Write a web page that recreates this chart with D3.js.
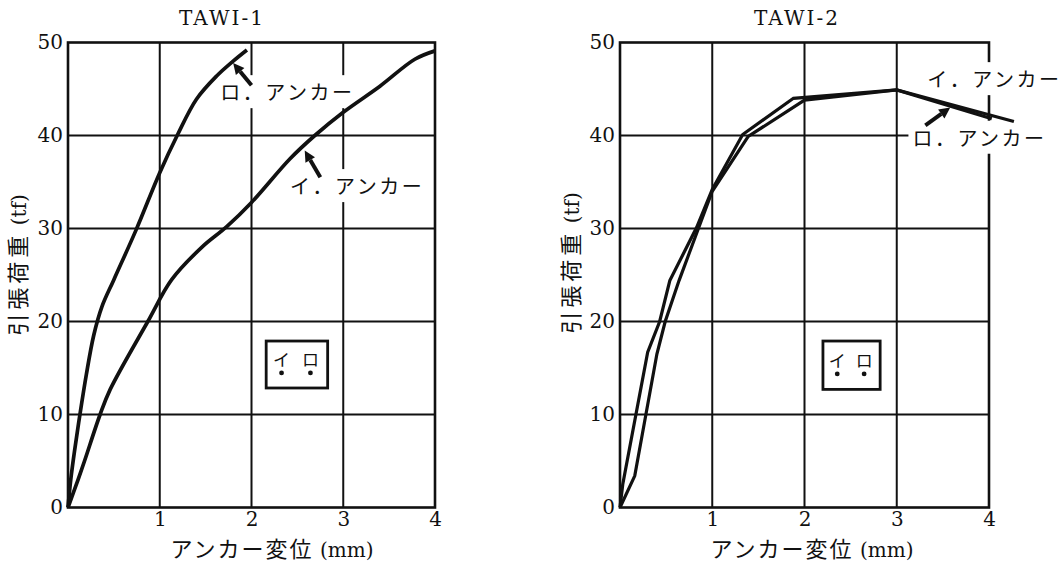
<!DOCTYPE html>
<html>
<head>
<meta charset="utf-8">
<script src="https://cdn.jsdelivr.net/npm/d3@7/dist/d3.min.js"></script>
<style>
  html, body { margin: 0; padding: 0; background: #fff; }
  svg { display: block; }
</style>
</head>
<body>
<svg id="chart" width="1064" height="562"></svg>
<script>
// Tick values (mm on x, tf on y)
const xTicks = [1, 2, 3, 4];
const yTicks = [0, 10, 20, 30, 40, 50];
const panelTitles = ["TAWI-1", "TAWI-2"];
const anchorNames = ["イ", "ロ"];

// TAWI-1: anchor displacement (mm) vs. tensile load (tf)
const tawi1RoDisp = [0, 0.03, 0.07, 0.13, 0.2, 0.28, 0.37, 0.5, 0.74, 1.0, 1.19, 1.4, 1.62, 1.8, 1.95];
const tawi1RoLoad = [0, 3, 6, 10, 14.3, 18.5, 21.6, 24.5, 29.8, 36, 40, 43.9, 46.4, 48, 49.2];
const tawi1IDisp  = [0, 0.11, 0.18, 0.35, 0.46, 0.87, 1.13, 1.46, 1.73, 2.0, 2.42, 2.69, 3.0, 3.4, 3.78, 4.0];
const tawi1ILoad  = [0, 3, 5, 10, 12.7, 20, 24.5, 28.0, 30.2, 32.8, 37.5, 40, 42.5, 45.3, 48.2, 49.1];

// TAWI-2: anchor displacement (mm) vs. tensile load (tf)
const tawi2RoDisp = [0, 0.03, 0.3, 0.43, 0.54, 0.83, 1.0, 1.33, 1.88, 3.0, 4.03];
const tawi2RoLoad = [0, 2.5, 16.7, 20, 24.4, 30.1, 34.2, 40.1, 44.0, 44.9, 41.8];
const tawi2IDisp  = [0, 0.16, 0.4, 0.49, 0.64, 0.85, 1.0, 1.39, 2.0, 3.0, 4.27];
const tawi2ILoad  = [0, 3.4, 16.5, 20, 24.4, 30.0, 34.0, 39.9, 43.8, 44.9, 41.5];

const INK = "#111";
const SERIF = "'DejaVu Serif', 'Liberation Serif', serif";
const JP = "'Noto Sans CJK JP', sans-serif";

const svg = d3.select("#chart");

const panels = [
  {
    title: panelTitles[0], titleX: 222,
    xRange: [68, 435], xLabelX: 272, yLabelX: 20, yLabelY: 265,
    series: [
      { disp: tawi1RoDisp, load: tawi1RoLoad, curve: d3.curveCatmullRom.alpha(0.5), width: 3.7 },
      { disp: tawi1IDisp,  load: tawi1ILoad,  curve: d3.curveCatmullRom.alpha(0.5), width: 3.7 }
    ],
    notes: [
      { name: anchorNames[1], at: [1.66, 43.8], tail: [2.0, 45.4], head: [1.80, 47.8] },
      { name: anchorNames[0], at: [2.42, 33.7], tail: [2.75, 35.5], head: [2.58, 38.4] }
    ],
    box: [2.16, 2.83, 12.85, 17.9]
  },
  {
    title: panelTitles[1], titleX: 797,
    xRange: [620, 989], xLabelX: 812, yLabelX: 573, yLabelY: 263,
    series: [
      { disp: tawi2RoDisp, load: tawi2RoLoad, curve: d3.curveLinear, width: 3.2 },
      { disp: tawi2IDisp,  load: tawi2ILoad,  curve: d3.curveLinear, width: 3.2 }
    ],
    notes: [
      { name: anchorNames[0], at: [3.33, 45.2] },
      { name: anchorNames[1], at: [3.17, 38.9], tail: [3.31, 41.1], head: [3.58, 43.0] }
    ],
    box: [2.2, 2.82, 12.7, 17.9]
  }
];

panels.forEach(p => {
  const x = d3.scaleLinear().domain([0, 4]).range(p.xRange);
  const y = d3.scaleLinear().domain([0, 50]).range([507.5, 42.5]);
  const g = svg.append("g");

  // grid lines
  g.append("g").selectAll("line").data(xTicks.slice(0, -1)).join("line")
    .attr("x1", d => x(d)).attr("x2", d => x(d))
    .attr("y1", y(0)).attr("y2", y(50))
    .attr("stroke", INK).attr("stroke-width", 2);
  g.append("g").selectAll("line").data(yTicks.slice(1, -1)).join("line")
    .attr("x1", x(0)).attr("x2", x(4))
    .attr("y1", d => y(d)).attr("y2", d => y(d))
    .attr("stroke", INK).attr("stroke-width", 2);

  // frame
  g.append("rect")
    .attr("x", x(0)).attr("y", y(50))
    .attr("width", x(4) - x(0)).attr("height", y(0) - y(50))
    .attr("fill", "none").attr("stroke", INK).attr("stroke-width", 2.6);

  // axes (labels only)
  const ax = g.append("g").attr("transform", `translate(0,${y(0)})`)
    .call(d3.axisBottom(x).tickValues(xTicks).tickFormat(d3.format("d")).tickSize(0).tickPadding(4));
  const ay = g.append("g").attr("transform", `translate(${x(0)},0)`)
    .call(d3.axisLeft(y).tickValues(yTicks).tickFormat(d3.format("d")).tickSize(0).tickPadding(5));
  [ax, ay].forEach(a => {
    a.select(".domain").remove();
    a.selectAll("text").attr("font-family", SERIF).attr("font-size", 20).attr("fill", INK);
  });

  // title
  g.append("text").attr("x", p.titleX).attr("y", 25)
    .attr("text-anchor", "middle").attr("font-family", SERIF).attr("font-size", 20)
    .attr("letter-spacing", 2).attr("fill", INK).text(p.title);

  // x axis title
  const xt = g.append("text").attr("x", p.xLabelX).attr("y", 557)
    .attr("text-anchor", "middle").attr("fill", INK);
  xt.append("tspan").attr("font-family", JP).attr("font-size", 22).attr("letter-spacing", 2).text("アンカー変位");
  xt.append("tspan").attr("font-family", SERIF).attr("font-size", 20).text(" (mm)");

  // y axis title
  const yt = g.append("text")
    .attr("transform", `translate(${p.yLabelX},${p.yLabelY}) rotate(-90)`)
    .attr("text-anchor", "middle").attr("dy", "0.35em").attr("fill", INK);
  yt.append("tspan").attr("font-family", JP).attr("font-size", 22).attr("letter-spacing", 4).text("引張荷重");
  yt.append("tspan").attr("font-family", SERIF).attr("font-size", 20).text(" (tf)");

  // white knockouts behind the annotation labels
  const bgG = g.append("g");
  // curves
  p.series.forEach(s => {
    const line = d3.line().x(d => x(d[0])).y(d => y(d[1])).curve(s.curve);
    g.append("path").datum(d3.zip(s.disp, s.load))
      .attr("d", line).attr("fill", "none").attr("stroke", INK)
      .attr("stroke-width", s.width).attr("stroke-linejoin", "miter").attr("stroke-linecap", "butt");
  });
  // annotation labels
  const noteG = g.append("g");
  p.notes.forEach(n => {
    const t = noteG.append("text").attr("x", x(n.at[0])).attr("y", y(n.at[1]))
      .attr("font-family", JP).attr("font-size", 20).attr("letter-spacing", 2.5)
      .attr("fill", INK).text(n.name + "．アンカー");
    const b = t.node().getBBox();
    bgG.append("rect").attr("fill", "#fff")
      .attr("x", b.x - 4).attr("y", b.y - 2).attr("width", b.width + 6).attr("height", b.height + 4);
  });

  // arrows
  p.notes.filter(n => n.head).forEach(n => {
    const x0 = x(n.tail[0]), y0 = y(n.tail[1]);
    const x1 = x(n.head[0]), y1 = y(n.head[1]);
    const ang = Math.atan2(y1 - y0, x1 - x0);
    const L = 11, W = 5.5;
    const bx = x1 - L * Math.cos(ang), by = y1 - L * Math.sin(ang);
    g.append("line").attr("x1", x0).attr("y1", y0).attr("x2", bx).attr("y2", by)
      .attr("stroke", INK).attr("stroke-width", 4);
    g.append("path")
      .attr("d", `M${x1},${y1}L${bx + W * Math.sin(ang)},${by - W * Math.cos(ang)}L${bx - W * Math.sin(ang)},${by + W * Math.cos(ang)}Z`)
      .attr("fill", INK);
  });

  // anchor layout key
  const [bx0, bx1, by0, by1] = p.box;
  const kg = g.append("g");
  kg.append("rect").attr("x", x(bx0)).attr("y", y(by1))
    .attr("width", x(bx1) - x(bx0)).attr("height", y(by0) - y(by1))
    .attr("fill", "#fff").attr("stroke", INK).attr("stroke-width", 2.8);
  const kw = x(bx1) - x(bx0), kh = y(by0) - y(by1);
  anchorNames.forEach((nm, i) => {
    const cx = x(bx0) + kw * (i === 0 ? 0.25 : 0.72);
    kg.append("text").attr("x", cx).attr("y", y(by1) + kh * 0.54)
      .attr("text-anchor", "middle").attr("font-family", JP).attr("font-size", 17)
      .attr("fill", INK).text(nm);
    kg.append("circle").attr("cx", cx).attr("cy", y(by1) + kh * 0.68).attr("r", 2.4).attr("fill", INK);
  });
});
</script>
</body>
</html>
